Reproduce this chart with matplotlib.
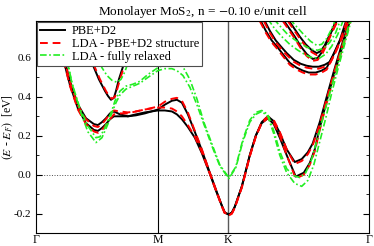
import numpy as np
import matplotlib
matplotlib.use('Agg')
import matplotlib.pyplot as plt

plt.rcParams['font.family'] = 'Liberation Serif'
plt.rcParams['mathtext.fontset'] = 'stix'

# high symmetry points along the path (Gamma-M = 1)
sym_k = [0.0, 1.0, 1.577, 2.732]
sym_labels = ['Γ', 'M', 'K', 'Γ']

# ---- PBE+D2 (black) ----
k_c2 = [0.172, 0.197, 0.221, 0.279, 0.344, 0.410, 0.475, 0.508, 0.541, 0.574, 0.607, 0.639,
        0.689, 0.754, 0.820, 0.893, 1.000, 1.057, 1.115, 1.156, 1.197, 1.246, 1.303, 1.361,
        1.426, 1.475, 1.525, 1.549, 1.582, 1.607, 1.631, 1.689, 1.754, 1.803, 1.852, 1.902,
        1.951, 2.000, 2.057, 2.123, 2.180, 2.230, 2.270, 2.328, 2.385, 2.443, 2.500, 2.557, 2.598]
pbe_c2 = [0.80, 0.70, 0.62, 0.48, 0.36, 0.29, 0.26, 0.255, 0.27, 0.29, 0.315, 0.325,
          0.31, 0.30, 0.305, 0.315, 0.335, 0.36, 0.38, 0.385, 0.37, 0.31, 0.22, 0.125,
          0.01, -0.075, -0.16, -0.195, -0.205, -0.195, -0.165, -0.06, 0.10, 0.20, 0.27, 0.30,
          0.275, 0.215, 0.13, 0.065, 0.08, 0.115, 0.16, 0.27, 0.40, 0.53, 0.65, 0.76, 0.85]
k_c1 = [0.172, 0.197, 0.221, 0.279, 0.344, 0.410, 0.475, 0.508, 0.541, 0.574, 0.607, 0.639,
        0.689, 0.754, 0.820, 0.893, 1.000, 1.057, 1.115, 1.156, 1.197, 1.246, 1.303, 1.361,
        1.426, 1.475, 1.525, 1.549, 1.582, 1.607, 1.631, 1.689, 1.754, 1.803, 1.852, 1.902,
        1.951, 2.000, 2.057, 2.131, 2.197, 2.246, 2.287, 2.328, 2.385, 2.443, 2.500, 2.557, 2.598]
pbe_c1 = [0.78, 0.68, 0.60, 0.46, 0.34, 0.265, 0.23, 0.225, 0.24, 0.26, 0.285, 0.30,
          0.30, 0.30, 0.31, 0.32, 0.33, 0.33, 0.325, 0.31, 0.285, 0.245, 0.19, 0.11,
          0.005, -0.08, -0.16, -0.195, -0.205, -0.195, -0.165, -0.06, 0.10, 0.20, 0.265, 0.29,
          0.26, 0.19, 0.10, -0.01, 0.01, 0.06, 0.13, 0.24, 0.38, 0.51, 0.63, 0.75, 0.84]
k_u1 = [0.303, 0.328, 0.361, 0.410, 0.459, 0.516, 0.566, 0.590, 0.615, 0.639, 0.656, 0.680,
        0.721, 0.762, 0.803, 0.836]
pbe_u1 = [0.81, 0.77, 0.72, 0.65, 0.575, 0.49, 0.43, 0.405, 0.385, 0.395, 0.43, 0.49,
          0.57, 0.65, 0.73, 0.80]
k_va = [1.836, 1.885, 1.934, 1.975, 2.025, 2.082, 2.139, 2.189, 2.238, 2.295, 2.344, 2.385,
        2.434, 2.492, 2.549]
pbe_va = [0.80, 0.74, 0.69, 0.66, 0.62, 0.575, 0.55, 0.535, 0.525, 0.525, 0.535, 0.55,
          0.61, 0.69, 0.80]
k_vb = [1.869, 1.918, 1.967, 2.008, 2.057, 2.115, 2.172, 2.221, 2.270, 2.320, 2.369, 2.410,
        2.459, 2.516, 2.566]
pbe_vb = [0.80, 0.74, 0.69, 0.66, 0.625, 0.59, 0.57, 0.56, 0.555, 0.555, 0.565, 0.58,
          0.64, 0.72, 0.80]
k_vc = [2.025, 2.074, 2.123, 2.172, 2.221, 2.270, 2.311, 2.352, 2.393, 2.434, 2.467]
pbe_vc = [0.80, 0.755, 0.71, 0.66, 0.62, 0.595, 0.60, 0.635, 0.69, 0.75, 0.80]
k_vd = [2.066, 2.115, 2.164, 2.213, 2.262, 2.303, 2.336, 2.369, 2.410, 2.443, 2.475]
pbe_vd = [0.80, 0.755, 0.71, 0.67, 0.64, 0.625, 0.635, 0.665, 0.72, 0.76, 0.80]

# ---- LDA with PBE+D2 structure (red) ----
lda_c2 = [0.80, 0.70, 0.62, 0.475, 0.355, 0.285, 0.25, 0.245, 0.26, 0.285, 0.315, 0.33,
          0.325, 0.32, 0.325, 0.335, 0.35, 0.375, 0.39, 0.395, 0.38, 0.32, 0.225, 0.13,
          0.01, -0.075, -0.16, -0.195, -0.21, -0.20, -0.17, -0.065, 0.095, 0.195, 0.27, 0.30,
          0.28, 0.22, 0.13, 0.055, 0.07, 0.105, 0.15, 0.26, 0.39, 0.52, 0.64, 0.75, 0.84]
lda_c1 = [0.78, 0.68, 0.60, 0.455, 0.335, 0.26, 0.222, 0.215, 0.23, 0.255, 0.285, 0.31,
          0.315, 0.315, 0.325, 0.335, 0.345, 0.345, 0.34, 0.325, 0.30, 0.255, 0.195, 0.115,
          0.005, -0.08, -0.165, -0.20, -0.21, -0.20, -0.17, -0.065, 0.095, 0.195, 0.265, 0.29,
          0.265, 0.20, 0.10, -0.02, 0.0, 0.05, 0.12, 0.23, 0.37, 0.50, 0.62, 0.74, 0.83]
k_u1_lda = [0.311, 0.336, 0.369, 0.418, 0.467, 0.525, 0.574, 0.598, 0.623, 0.648, 0.664, 0.689,
            0.729, 0.770, 0.811, 0.844]
lda_u1 = [0.81, 0.77, 0.72, 0.65, 0.575, 0.49, 0.43, 0.405, 0.39, 0.40, 0.435, 0.49,
          0.57, 0.65, 0.73, 0.80]
lda_va = [0.79, 0.73, 0.68, 0.65, 0.61, 0.565, 0.54, 0.525, 0.515, 0.515, 0.525, 0.54,
          0.60, 0.68, 0.79]
lda_vb = [0.79, 0.73, 0.68, 0.65, 0.615, 0.58, 0.56, 0.55, 0.545, 0.545, 0.555, 0.57,
          0.63, 0.71, 0.79]
lda_vc = [0.79, 0.745, 0.70, 0.65, 0.61, 0.585, 0.59, 0.625, 0.68, 0.74, 0.79]
lda_vd = [0.79, 0.745, 0.70, 0.66, 0.63, 0.615, 0.625, 0.655, 0.71, 0.75, 0.79]

# ---- LDA fully relaxed (green) ----
k_g2 = [0.213, 0.246, 0.295, 0.361, 0.426, 0.492, 0.525, 0.557, 0.590, 0.623, 0.648, 0.689,
        0.738, 0.795, 0.852, 0.918, 1.000, 1.057, 1.115, 1.156, 1.205, 1.262, 1.320, 1.377,
        1.451, 1.508, 1.582, 1.639, 1.697, 1.754, 1.803, 1.852, 1.902, 1.951, 2.000, 2.057,
        2.115, 2.164, 2.213, 2.262, 2.311, 2.361, 2.410, 2.467, 2.525, 2.590]
rel_c2 = [0.71, 0.61, 0.47, 0.34, 0.25, 0.19, 0.195, 0.23, 0.28, 0.33, 0.38, 0.43,
          0.455, 0.465, 0.48, 0.515, 0.55, 0.565, 0.575, 0.575, 0.555, 0.49, 0.39, 0.27,
          0.145, 0.05, -0.015, 0.04, 0.18, 0.28, 0.32, 0.33, 0.31, 0.225, 0.12, 0.03,
          -0.005, -0.015, 0.01, 0.08, 0.19, 0.31, 0.42, 0.55, 0.68, 0.82]
k_g1 = [0.213, 0.246, 0.295, 0.361, 0.426, 0.492, 0.541, 0.590, 0.623, 0.656, 0.689, 0.738,
        0.795, 0.852, 0.918, 1.000, 1.057, 1.115, 1.156, 1.205, 1.262, 1.320, 1.377, 1.451,
        1.508, 1.582, 1.639, 1.697, 1.754, 1.803, 1.852, 1.902, 1.951, 2.000, 2.057, 2.123,
        2.180, 2.230, 2.279, 2.328, 2.377, 2.426, 2.484, 2.541, 2.598]
rel_c1 = [0.73, 0.62, 0.47, 0.33, 0.22, 0.165, 0.19, 0.26, 0.32, 0.37, 0.41, 0.44,
          0.455, 0.47, 0.50, 0.535, 0.545, 0.545, 0.535, 0.51, 0.45, 0.36, 0.26, 0.135,
          0.045, -0.02, 0.035, 0.17, 0.27, 0.31, 0.325, 0.30, 0.21, 0.10, 0.01, -0.045,
          -0.06, -0.03, 0.05, 0.17, 0.29, 0.42, 0.56, 0.69, 0.82]
k_gu = [0.426, 0.459, 0.500, 0.541, 0.582, 0.623, 0.664, 0.697, 0.730, 0.762, 0.795, 0.828, 0.861]
rel_u1 = [0.76, 0.69, 0.61, 0.55, 0.51, 0.485, 0.475, 0.49, 0.53, 0.59, 0.66, 0.73, 0.80]
k_ga = [1.902, 1.959, 2.016, 2.082, 2.148, 2.213, 2.270, 2.328, 2.377, 2.426, 2.475, 2.525]
rel_va = [0.80, 0.75, 0.71, 0.67, 0.64, 0.615, 0.60, 0.60, 0.62, 0.66, 0.72, 0.80]
k_gb = [1.951, 2.008, 2.066, 2.131, 2.197, 2.254, 2.311, 2.361, 2.410, 2.459, 2.500]
rel_vb = [0.80, 0.76, 0.72, 0.69, 0.665, 0.645, 0.64, 0.65, 0.68, 0.73, 0.80]
k_gc = [2.082, 2.139, 2.197, 2.254, 2.303, 2.344, 2.385, 2.426, 2.459]
rel_vc = [0.80, 0.76, 0.72, 0.685, 0.665, 0.67, 0.70, 0.75, 0.80]

fig = plt.figure(figsize=(3.74, 2.46), dpi=100)
ax = fig.add_axes([0.0963, 0.0528, 0.8903, 0.8618])

pbe = [(k_c2, pbe_c2), (k_c1, pbe_c1), (k_u1, pbe_u1), (k_va, pbe_va),
       (k_vb, pbe_vb), (k_vc, pbe_vc), (k_vd, pbe_vd)]
lda = [(k_c2, lda_c2), (k_c1, lda_c1), (k_u1_lda, lda_u1), (k_va, lda_va),
       (k_vb, lda_vb), (k_vc, lda_vc), (k_vd, lda_vd)]
rel = [(k_g2, rel_c2), (k_g1, rel_c1), (k_gu, rel_u1), (k_ga, rel_va),
       (k_gb, rel_vb), (k_gc, rel_vc)]

for i, (k, e) in enumerate(pbe):
    ax.plot(k, e, color='black', lw=1.4, label='PBE+D2' if i == 0 else None)
for i, (k, e) in enumerate(lda):
    ax.plot(k, e, color='red', lw=1.4, ls=(0, (4, 2.5)),
            label='LDA - PBE+D2 structure' if i == 0 else None)
for i, (k, e) in enumerate(rel):
    ax.plot(k, e, color='#22ee22', lw=1.2, ls=(0, (4, 1.5, 1, 1.5)),
            label='LDA - fully relaxed' if i == 0 else None)

ax.axvline(sym_k[1], color='black', lw=0.8, zorder=0)
ax.axvline(sym_k[2], color='0.35', lw=1.0, zorder=0)
ax.axhline(0.0, color='0.3', lw=0.7, ls=':', zorder=0)

ax.set_xlim(sym_k[0], sym_k[-1])
ax.set_ylim(-0.3, 0.79)
ax.set_xticks(sym_k)
ax.set_xticklabels(sym_labels, fontsize=8.5)
ax.set_yticks([-0.2, 0.0, 0.2, 0.4, 0.6])
ax.set_yticklabels(['-0.2', '0.0', '0.2', '0.4', '0.6'], fontsize=8)
ax.set_yticks(np.arange(-0.2, 0.75, 0.1), minor=True)
ax.tick_params(axis='y', which='both', direction='in', right=True, length=4)
ax.tick_params(axis='y', which='minor', length=2.5)
ax.tick_params(axis='x', length=0, pad=0.5)
ax.set_ylabel(r'$(E$ - $E_F)$  [eV]', fontsize=8.5)
ax.yaxis.set_label_coords(-0.062, 0.5)
ax.set_title(r'Monolayer MoS$_2$, n = $-$0.10 e/unit cell', fontsize=9.5, pad=4)

leg = ax.legend(loc='upper left', fontsize=9, frameon=True, fancybox=False,
                borderaxespad=0.1, handlelength=2.0, labelspacing=0.05,
                borderpad=0.25, handletextpad=0.5)
leg.get_frame().set_edgecolor('0.3')
leg.get_frame().set_linewidth(0.8)
leg.get_frame().set_alpha(1)

fig.savefig('out.png', dpi=100)
